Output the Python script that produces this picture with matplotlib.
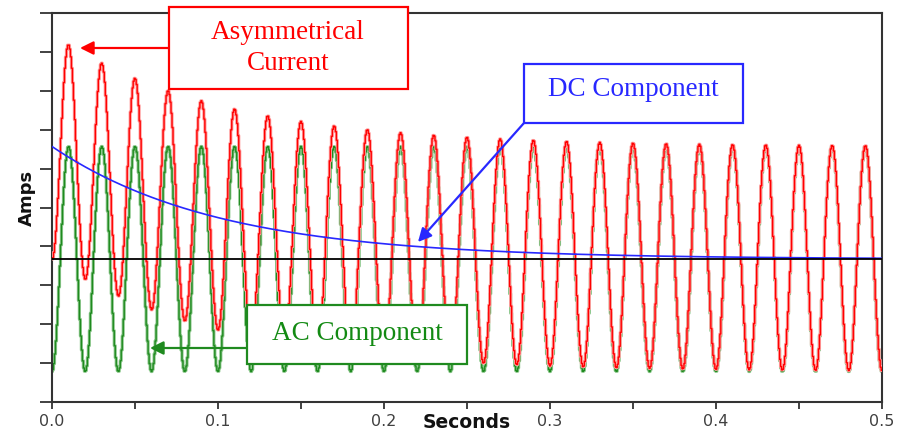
import numpy as np
import matplotlib
matplotlib.use('Agg')
import matplotlib.pyplot as plt
from matplotlib.patches import Rectangle
import matplotlib.patheffects as pe
from matplotlib.ticker import MultipleLocator, NullFormatter

# ---- values ----
FREQ_HZ = 50.0          # 25 cycles in 0.5 s
AC_PEAK = 1.0           # AC component peak (per unit)
DC_START = 1.0          # DC offset at t=0 equals the AC peak (fully offset)
DC_TAU_S = 0.1          # DC decay time constant
T_END_S = 0.5
SAMPLE_S = 0.0006

x_ticks = [0.0, 0.1, 0.2, 0.3, 0.4, 0.5]
x_tick_labels = ['0.0', '0.1', '0.2', '0.3', '0.4', '0.5']
x_label = 'Seconds'
y_label = 'Amps'
label_asym = 'Asymmetrical\nCurrent'
label_dc = 'DC Component'
label_ac = 'AC Component'

t = np.arange(0, T_END_S + SAMPLE_S / 2, SAMPLE_S)
ac = -AC_PEAK * np.cos(2 * np.pi * FREQ_HZ * t)
dc = DC_START * np.exp(-t / DC_TAU_S)
asym = ac + dc

W, H = 899, 434
fig = plt.figure(figsize=(W / 100, H / 100), dpi=100)
fig.patch.set_facecolor('white')

def px(x, y):
    return (x / W, 1 - y / H)

ax = fig.add_axes([52 / W, 1 - 402 / H, 830 / W, 389 / H])

RED = '#ff0000'
GREEN = '#1f8a1f'
BLUE = '#2828ff'

ax.plot(t, ac, color=GREEN, lw=1.0, drawstyle='steps-mid', zorder=2,
        path_effects=[pe.Stroke(linewidth=2.3, foreground='#8fc98f'), pe.Normal()])
ax.plot(t, asym, color=RED, lw=1.0, drawstyle='steps-mid', zorder=3,
        path_effects=[pe.Stroke(linewidth=2.3, foreground='#ffa0a0'), pe.Normal()])
ax.plot(t, dc, color=BLUE, lw=1.2, zorder=4)
ax.axhline(0, color='black', lw=1.3, zorder=5)

ax.set_xlim(0, 0.5)
unit_px = 112.5
ybot = -(402 - 259) / unit_px
ytop = (259 - 13) / unit_px
ax.set_ylim(ybot, ytop)
ystep = (ytop - ybot) / 10
ax.set_yticks([ybot + k * ystep for k in range(11)])
ax.yaxis.set_major_formatter(NullFormatter())

ax.set_xticks(x_ticks)
ax.set_xticklabels(x_tick_labels)
ax.xaxis.set_minor_locator(MultipleLocator(0.05))

for s in ax.spines.values():
    s.set_color('#333333')
    s.set_linewidth(1.5)

ax.tick_params(axis='y', which='major', direction='out', length=9, width=1.3, color='#333333')
ax.tick_params(axis='x', which='both', direction='out', length=5, width=1.3, color='#333333',
               labelsize=11.5, labelcolor='#404040', pad=4)

fig.text(*px(27, 198), y_label, rotation=90, fontsize=13, fontweight='bold',
         ha='center', va='center', color='#111111')
fig.text(*px(467, 423), x_label, fontsize=13.5, fontweight='bold',
         ha='center', va='center', color='#111111')

SERIF = 'Liberation Serif'

def box(x0, y0, x1, y1, color):
    r = Rectangle(px(x0, y1), (x1 - x0) / W, (y1 - y0) / H, transform=fig.transFigure,
                  facecolor='white', edgecolor=color, lw=1.6, zorder=10)
    fig.add_artist(r)

def arrow(x0, y0, x1, y1, color):
    ax.annotate('', xy=px(x1, y1), xycoords='figure fraction',
                xytext=px(x0, y0), textcoords='figure fraction',
                arrowprops=dict(arrowstyle='-|>', color=color, lw=1.6,
                                mutation_scale=20, shrinkA=0, shrinkB=0),
                zorder=9, annotation_clip=False)

# Asymmetrical current
box(169, 7, 408, 89, RED)
fig.text(*px(288, 48), label_asym, fontsize=19.5, family=SERIF, color=RED,
         ha='center', va='center', linespacing=1.28, zorder=11)
arrow(169, 48, 80, 48, RED)

# DC component
box(524, 64, 743, 123, BLUE)
fig.text(*px(633, 89), label_dc, fontsize=19.5, family=SERIF, color=BLUE,
         ha='center', va='center', zorder=11)
arrow(524, 123, 418, 242, BLUE)

# AC component
box(247, 305, 467, 364, GREEN)
fig.text(*px(357, 333), label_ac, fontsize=19.5, family=SERIF, color='#138a13',
         ha='center', va='center', zorder=11)
arrow(247, 348, 150, 348, GREEN)

fig.savefig('out.png', dpi=100)
